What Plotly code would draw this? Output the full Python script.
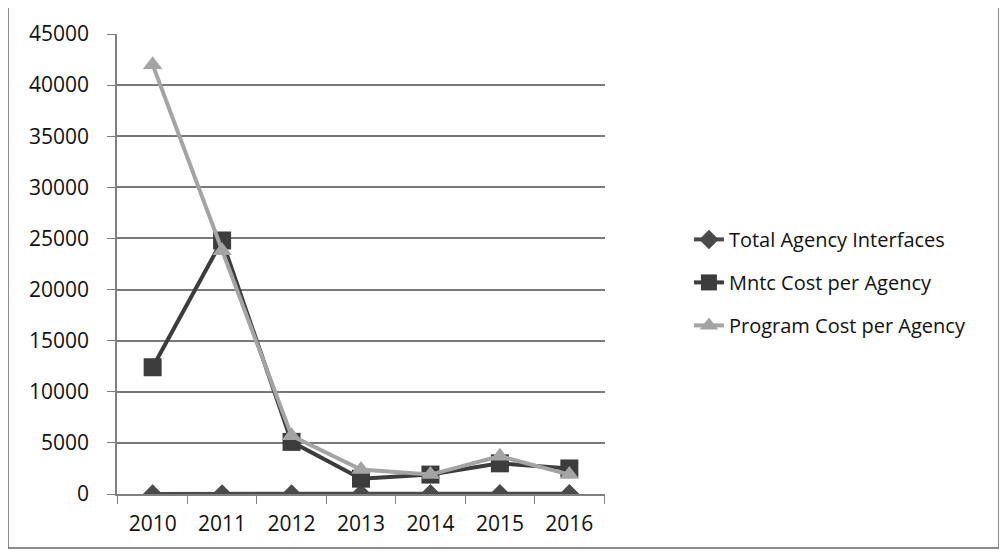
import plotly.graph_objects as go

years = ["2010", "2011", "2012", "2013", "2014", "2015", "2016"]
total_interfaces = [5, 8, 12, 20, 25, 30, 35]
mntc_cost = [12400, 24800, 5100, 1500, 1900, 3000, 2500]
program_cost = [42000, 23800, 5700, 2400, 1900, 3700, 1900]
y_ticks = [0, 5000, 10000, 15000, 20000, 25000, 30000, 35000, 40000, 45000]
y_tick_labels = [str(v) for v in y_ticks]

fig = go.Figure()
fig.add_trace(go.Scatter(x=years, y=total_interfaces, name="Total Agency Interfaces",
                         legendgroup="a",
                         mode="lines+markers", line=dict(color="#4a4a4a", width=4),
                         marker=dict(symbol="diamond", size=15, color="#4a4a4a")))
fig.add_trace(go.Scatter(x=years, y=mntc_cost, name="Mntc Cost per Agency",
                         legendgroup="b",
                         mode="lines+markers", line=dict(color="#3c3c3c", width=4),
                         marker=dict(symbol="square", size=18, color="#3c3c3c")))
fig.add_trace(go.Scatter(x=years, y=program_cost, name="Program Cost per Agency",
                         legendgroup="c",
                         mode="lines+markers", line=dict(color="#a4a4a4", width=4),
                         marker=dict(symbol="triangle-up", size=17, color="#a4a4a4")))

fig.update_layout(
    width=999, height=551,
    margin=dict(l=109, r=402, t=26, b=65),
    paper_bgcolor="white", plot_bgcolor="white",
    font=dict(family="Open Sans, Lato, sans-serif", color="#111111", size=21),
    showlegend=True,
    legend=dict(x=1.172, y=0.46, xanchor="left", yanchor="middle",
                font=dict(size=20), tracegroupgap=14,
                bgcolor="rgba(0,0,0,0)"),
    xaxis=dict(type="category", showgrid=False, showline=True, linecolor="#808080",
               linewidth=1.5, ticks="outside", tickson="boundaries", ticklen=8,
               tickcolor="#808080", tickfont=dict(size=21), ticklabelstandoff=10),
    yaxis=dict(range=[0, 45000], tickvals=y_ticks, ticktext=y_tick_labels,
               showgrid=True, gridcolor="#7a7a7a",
               gridwidth=1.5, showline=True, linecolor="#808080", linewidth=1.5,
               ticks="outside", ticklen=8, tickcolor="#7a7a7a", zeroline=False,
               tickfont=dict(size=21), ticklabelstandoff=14),
    shapes=[dict(type="rect", xref="paper", yref="paper",
                 x0=(8 - 117) / 488, x1=(999 - 117) / 488,
                 y0=(494 - 548) / 460, y1=(494 - 6) / 460,
                 line=dict(color="#666666", width=1.5))],
)

fig.write_html("out.html")
